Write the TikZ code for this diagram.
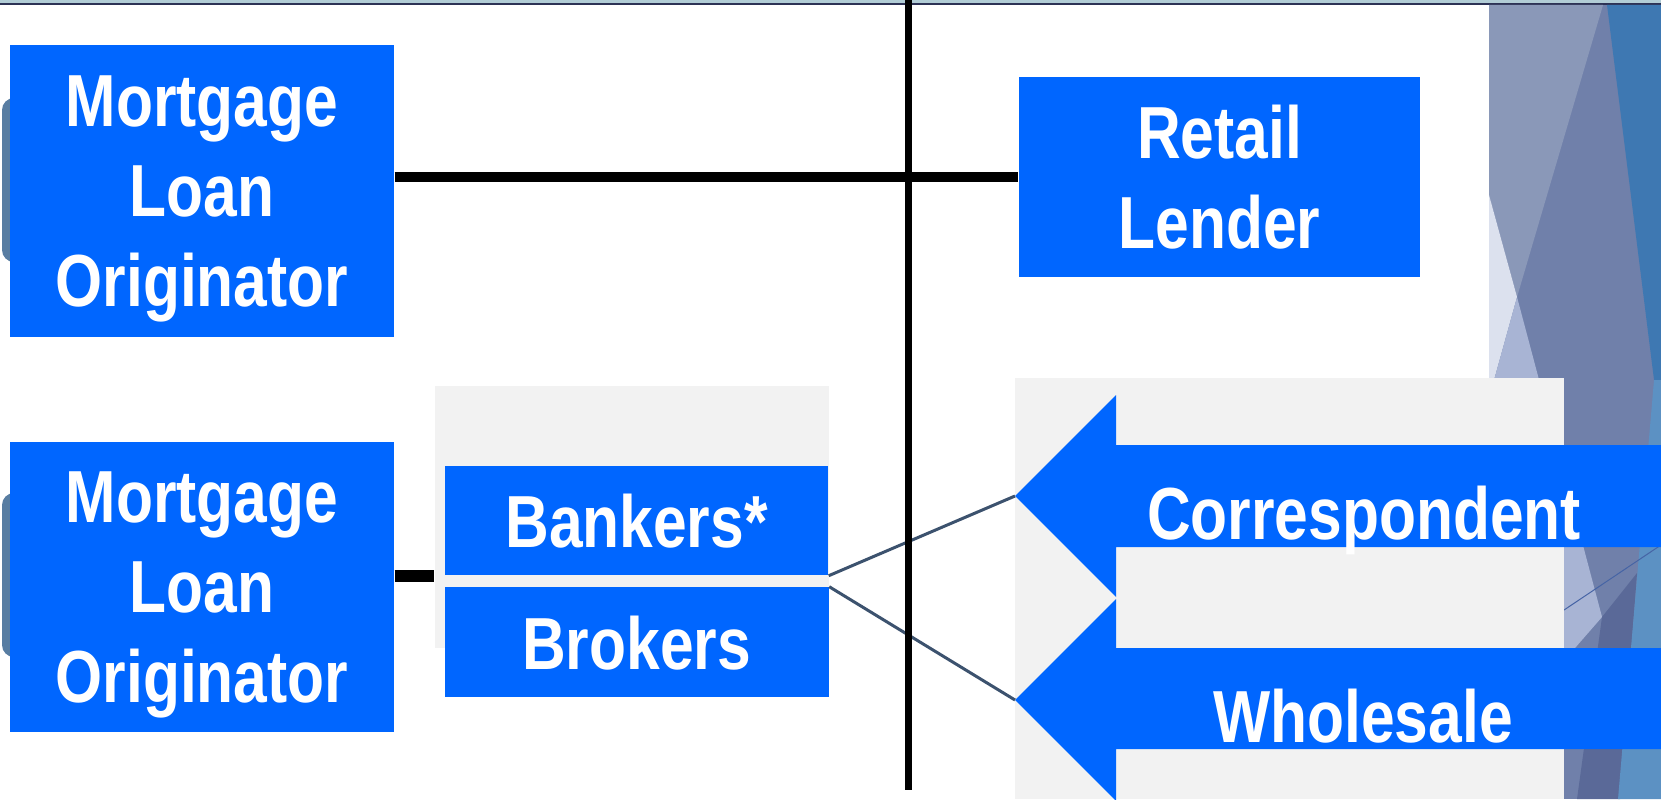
\documentclass[tikz,border=0pt]{standalone}
\usepackage{fontspec}
\newfontfamily\boxfont[FakeStretch=0.82]{Liberation Sans}
\usetikzlibrary{positioning}
\definecolor{lenderblue}{RGB}{0,102,255}
\definecolor{panelgrey}{RGB}{242,242,242}
\definecolor{linkslate}{RGB}{60,82,110}
\definecolor{tabslate}{RGB}{88,125,162}
\definecolor{bandlight}{RGB}{178,205,214}
\definecolor{banddark}{RGB}{45,50,85}
\definecolor{facetslate}{RGB}{112,128,170}
\definecolor{facetgrey}{RGB}{138,152,184}
\definecolor{facetpale}{RGB}{220,225,238}
\definecolor{facetlight}{RGB}{168,180,212}
\definecolor{facetdark}{RGB}{90,105,152}
\definecolor{facetblue}{RGB}{62,120,178}
\definecolor{facetsteel}{RGB}{92,145,195}
\definecolor{facetline}{RGB}{70,100,165}

\tikzset{
  lenderbox/.style={rectangle, fill=lenderblue, text=white, inner sep=0pt,
    align=center, text depth=0pt,
    font=\boxfont\bfseries\fontsize{21}{25.6}\selectfont},
  arrowtext/.style={text=white, inner sep=0pt,
    font=\boxfont\bfseries\fontsize{21}{25.6}\selectfont},
  panel/.style={rectangle, fill=panelgrey, inner sep=0pt},
  link/.style={draw=linkslate, line width=0.03cm},
}

\begin{document}
\begin{tikzpicture}
  \useasboundingbox (0,0) rectangle (16.61,7.99);
  \clip (0,0) rectangle (16.61,7.99);

  % title band along the top
  \fill[bandlight] (0,7.99) rectangle (16.61,7.96);
  \fill[banddark] (0,7.96) rectangle (16.61,7.94);

  % facets on the right edge
  \fill[facetslate] (14.89,7.94) rectangle (16.61,0);
  \fill[facetgrey] (14.89,7.94) -- (16.03,7.94) -- (15.17,5.02) -- (14.89,6.04) -- cycle;
  \fill[facetpale] (14.89,6.04) -- (15.17,5.02) -- (14.94,4.19) -- (14.89,4.19) -- cycle;
  \fill[facetlight] (15.17,5.02) -- (16.02,1.82) -- (15.75,1.51) -- (14.94,1.51) -- (14.94,4.19) -- cycle;
  \fill[facetdark] (16.37,2.26) -- (16.02,1.82) -- (15.77,0) -- (16.20,0) -- cycle;
  \fill[facetblue] (16.07,7.94) -- (16.61,7.94) -- (16.61,4.19) -- (16.54,4.19) -- cycle;
  \fill[facetsteel] (16.54,4.19) -- (16.61,4.19) -- (16.61,0) -- (16.18,0) -- cycle;
  \draw[facetline, line width=0.01cm] (15.64,1.89) -- (16.61,2.54);

  % tabs peeking out behind the originators
  \fill[tabslate, rounded corners=0.12cm] (0.02,7.01) rectangle (0.6,5.37);
  \fill[tabslate, rounded corners=0.12cm] (0.02,3.06) rectangle (0.6,1.42);

  % grey panels
  \node[panel, minimum width=3.94cm, minimum height=2.62cm] (brokerpanel) at (6.32,2.82) {};
  \node[panel, minimum width=5.49cm, minimum height=4.21cm] (lenderpanel) at (12.895,2.105) {};

  % originators and lenders
  \node[lenderbox, minimum width=3.84cm, minimum height=2.92cm] (mlo1) at (2.02,6.08) {Mortgage\\Loan\\Originator};
  \node[lenderbox, minimum width=3.84cm, minimum height=2.90cm, below=1.04cm of mlo1] (mlo2) {Mortgage\\Loan\\Originator};
  \node[lenderbox, minimum width=4.01cm, minimum height=2.00cm] (retail) at (12.195,6.22) {Retail\\Lender};
  \node[lenderbox, minimum width=3.83cm, minimum height=1.09cm] (bankers) at (6.365,2.785) {Bankers*};
  \node[lenderbox, minimum width=3.84cm, minimum height=1.10cm, below=0.11cm of bankers] (brokers) {Brokers};

  % correspondent and wholesale arrows
  \fill[lenderblue] (10.15,3.03) -- (11.16,4.04) -- (11.16,3.54) -- (16.61,3.54)
    -- (16.61,2.52) -- (11.16,2.52) -- (11.16,2.02) -- cycle;
  \coordinate (corrtip) at (10.15,3.03);
  \node[arrowtext, anchor=base] (corr) at (13.64,2.60) {Correspondent};
  \fill[lenderblue] (10.15,0.99) -- (11.16,2.00) -- (11.16,1.51) -- (16.61,1.51)
    -- (16.61,0.50) -- (11.16,0.50) -- (11.16,-0.02) -- cycle;
  \coordinate (wholetip) at (10.15,0.99);
  \node[arrowtext, anchor=base] (whole) at (13.63,0.57) {Wholesale};

  % connectors
  \draw[line width=0.10cm] (mlo1.east |- retail.west) -- (retail.west);
  \draw[line width=0.12cm] (mlo2.east |- bankers.south) -- (brokerpanel.west |- bankers.south);
  \draw[link] (bankers.south east) -- (corrtip);
  \draw[link] (brokers.north east) -- (wholetip);

  % divider
  \draw[line width=0.07cm] (9.08,7.99) -- (9.08,0.09);
\end{tikzpicture}
\end{document}
